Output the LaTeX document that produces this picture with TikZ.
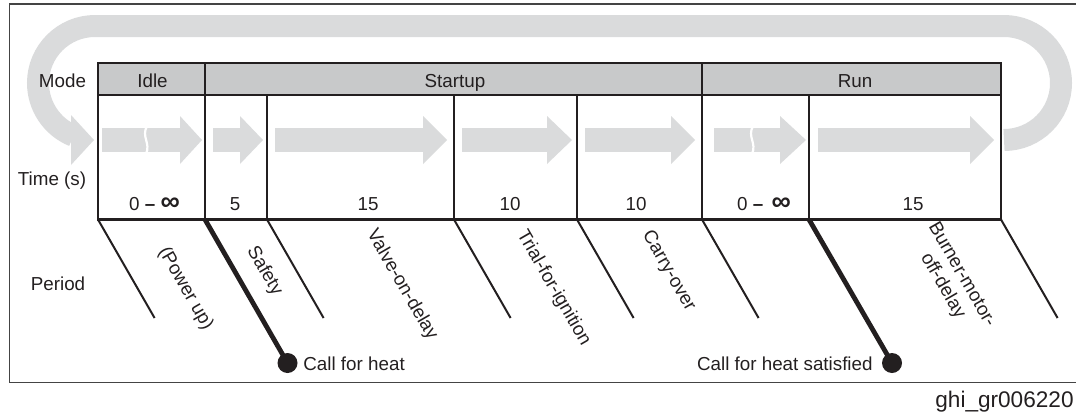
\documentclass[tikz,border=0pt]{standalone}
\usepackage{fontspec}
\setmainfont{Liberation Sans}
\definecolor{ink}{HTML}{231F20}
\definecolor{arr}{HTML}{DADBDC}
\definecolor{hdr}{HTML}{C8C9CA}
\definecolor{framec}{HTML}{444444}
\newcommand\barw[3]{\fill[arr] (#1,128) rectangle (#2,152); \fill[arr] (#2,116) -- (#3,140) -- (#2,164) -- cycle;}
\newcommand\brkw[1]{\draw[white, line width=1.1pt] (#1+1,126) .. controls (#1-5,137) and (#1+5,143) .. (#1,154);}
\newcommand\infsym{{\fontsize{13.5pt}{13.5pt}\selectfont\bfseries ∞}}
\begin{document}
\begin{tikzpicture}[x=0.5pt,y=-0.5pt,
  lbl/.style={font=\fontsize{9.4pt}{11pt}\selectfont, inner sep=0pt, text=ink},
  tbl/.style={draw=ink, line width=1.1pt},
  thinln/.style={draw=ink, line width=1pt},
  thickln/.style={draw=ink, line width=2.4pt},
  band/.style={draw=arr, line width=11pt},
  dot/.style={circle, fill=ink, inner sep=0pt, minimum size=10pt}]
\useasboundingbox (0,0) rectangle (1076,413);
% frame (open on the right)
\draw[framec, line width=0.75pt] (1080,4) -- (9.5,4) -- (9.5,382.7) -- (1080,382.7);
% loop band
\draw[band] (1004,140) arc[start angle=90, end angle=-90, radius=57] -- (95,26) arc[start angle=270, end angle=112, radius=57];
\fill[arr] (71,115) -- (94,140) -- (71,165) -- cycle;
% block arrows
\barw{102}{180}{202}
\brkw{146}
\barw{213}{240}{263}
\barw{275}{423}{447}
\barw{462}{547}{572}
\barw{585}{671}{695}
\barw{714}{780}{806}
\brkw{752}
\barw{818}{970}{994}
% table
\fill[hdr] (98,63) rectangle (1001,95);
\draw[tbl] (98,63) rectangle (1001,219.5);
\draw[tbl] (98,95) -- (1001,95);
\foreach \x in {205,702} \draw[tbl] (\x,63) -- (\x,219.5);
\foreach \x in {267,454,577,809} \draw[tbl] (\x,95) -- (\x,219.5);
% header texts
\node[lbl, anchor=base] (mode) at (62.5,87) {Mode};
\node[lbl, anchor=base] (idle) at (152.5,87) {Idle};
\node[lbl, anchor=base] (startup) at (455,87) {Startup};
\node[lbl, anchor=base] (run) at (855,87) {Run};
\node[lbl, anchor=base] (time) at (52,185) {Time (s)};
\node[lbl, anchor=base] (v1) at (154.5,210.7) {0 \textbf{–} \infsym};
\node[lbl, anchor=base] (v2) at (235,210.7) {5};
\node[lbl, anchor=base] (v3) at (368,210.7) {15};
\node[lbl, anchor=base] (v4) at (510,210.7) {10};
\node[lbl, anchor=base] (v5) at (636,210.7) {10};
\node[lbl, anchor=base] (v6) at (764,210.7) {0 \textbf{–} \,\infsym};
\node[lbl, anchor=base] (v7) at (913,210.7) {15};
\node[lbl, anchor=base] (period) at (58,290.7) {Period};
% diagonals
\foreach \x in {98,267,454,577,702,1001} \draw[thinln] (\x,219.5) -- ++(56.6,98.5);
\node[dot] (d1) at (287.5,363) {};
\node[dot] (d2) at (892,363) {};
\coordinate (t1) at (205,219.5);
\coordinate (t2) at (809,219.5);
\draw[thickln] (t1) -- (d1.center);
\draw[thickln] (t2) -- (d2.center);
\node[lbl, anchor=base west] (cfh) at (303,370) {Call for heat};
\node[lbl, anchor=base east] (cfhs) at (873,370) {Call for heat satisfied};
% rotated period labels
\node[lbl, rotate=-60] (p1) at (185.5,288.5) {(Power up)};
\node[lbl, rotate=-60] (p2) at (264.5,271) {Safety};
\node[lbl, rotate=-60] (p3) at (402,285) {Valve-on-delay};
\node[lbl, rotate=-60] (p4) at (553.5,288) {Trial-for-ignition};
\node[lbl, rotate=-60] (p5) at (668.5,271) {Carry-over};
\node[lbl, rotate=-60, align=center] (p6) at (952,280.5) {Burner-motor-\\off-delay};
% figure id
\node[font=\fontsize{11.3pt}{13pt}\selectfont, anchor=base east, inner sep=0pt, text=ink] (fid) at (1074,407) {ghi\_gr006220};
\end{tikzpicture}
\end{document}
